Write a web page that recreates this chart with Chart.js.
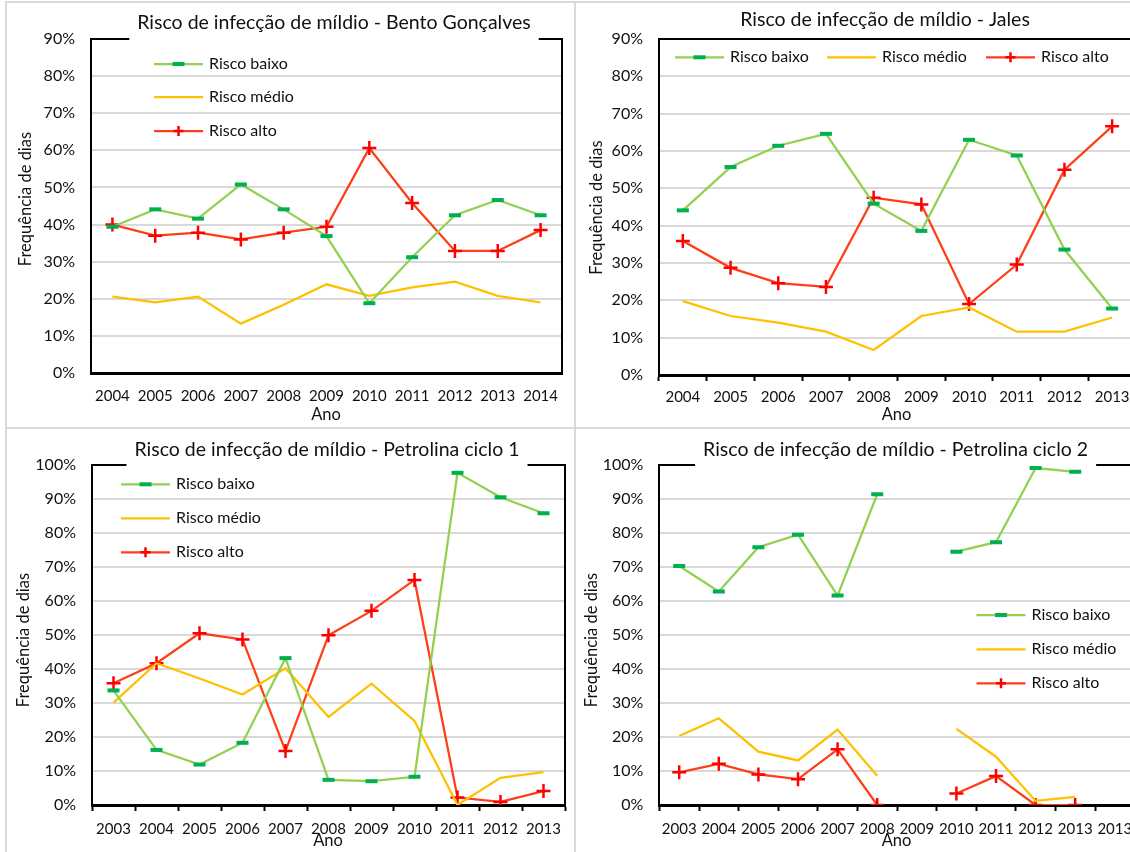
<!DOCTYPE html>
<html lang="pt">
<head>
<meta charset="utf-8">
<title>Risco de infecção de míldio</title>
<script src="https://cdn.jsdelivr.net/npm/chart.js@4.4.1/dist/chart.umd.min.js"></script>
<style>
  html, body { margin: 0; padding: 0; background: #fff; }
  #page { position: relative; width: 1130px; height: 852px; overflow: hidden; background: #fff; }
  #page canvas { position: absolute; }
  .rule { position: absolute; background: #d9d9d9; }
</style>
</head>
<body>
<div id="page">
  <canvas id="bento"  width="569" height="426" style="left:6px;top:2px"></canvas>
  <canvas id="jales"  width="575" height="426" style="left:575px;top:2px"></canvas>
  <canvas id="petro1" width="569" height="430" style="left:6px;top:428px"></canvas>
  <canvas id="petro2" width="575" height="430" style="left:575px;top:428px"></canvas>
  <div class="rule" style="left:5px;top:1px;width:2px;height:851px"></div>
  <div class="rule" style="left:574px;top:1px;width:2px;height:851px"></div>
  <div class="rule" style="left:5px;top:1px;width:1125px;height:2px"></div>
  <div class="rule" style="left:5px;top:427px;width:1125px;height:2px"></div>
</div>
<script>
// Anos (categorias)
const anosBento = ['2004', '2005', '2006', '2007', '2008', '2009', '2010', '2011', '2012', '2013', '2014'];
const anosJales = ['2004', '2005', '2006', '2007', '2008', '2009', '2010', '2011', '2012', '2013'];
const anosPetrolina1 = ['2003', '2004', '2005', '2006', '2007', '2008', '2009', '2010', '2011', '2012', '2013'];
const anosPetrolina2 = ['2003', '2004', '2005', '2006', '2007', '2008', '2009', '2010', '2011', '2012', '2013', '2013'];

// Frequência de dias (%) por nível de risco
const bentoBaixo = [39.4, 44.1, 41.6, 50.8, 44.1, 36.9, 18.8, 31.2, 42.5, 46.6, 42.5];
const bentoMedio = [20.6, 19.0, 20.6, 13.3, 18.4, 23.9, 20.8, 23.1, 24.6, 20.8, 19.0];
const bentoAlto  = [40.0, 37.0, 37.8, 36.0, 37.8, 39.4, 60.6, 45.8, 32.9, 32.9, 38.5];

const jalesBaixo = [44.1, 55.7, 61.4, 64.6, 45.9, 38.6, 63.0, 58.8, 33.6, 17.8];
const jalesMedio = [19.8, 15.8, 14.0, 11.6, 6.7, 15.8, 18.1, 11.6, 11.6, 15.4];
const jalesAlto  = [35.9, 28.7, 24.6, 23.6, 47.5, 45.7, 19.0, 29.6, 55.0, 66.6];

const petrolina1Baixo = [33.7, 16.2, 11.9, 18.3, 43.2, 7.4, 7.0, 8.3, 97.7, 90.5, 85.8];
const petrolina1Medio = [30.1, 41.7, 37.2, 32.5, 40.2, 25.9, 35.7, 24.7, 0.0, 8.0, 9.7];
const petrolina1Alto  = [35.8, 41.7, 50.5, 48.7, 15.9, 49.9, 57.1, 66.2, 2.2, 0.9, 4.1];

const petrolina2Baixo = [70.3, 62.8, 75.8, 79.5, 61.6, 91.4, null, 74.5, 77.3, 99.1, 98.0, null];
const petrolina2Medio = [20.3, 25.5, 15.7, 13.1, 22.2, 8.6, null, 22.4, 14.2, 1.2, 2.4, null];
const petrolina2Alto  = [9.6, 12.1, 9.0, 7.6, 16.4, 0.0, null, 3.4, 8.5, 0.0, 0.0, null];

const FONT = 'Lato, "Open Sans", sans-serif';
const TEXT = '#111111';
const VERDE = '#92D050', VERDE_MARCA = '#00B050';
const AMARELO = '#FFC000';
const VERMELHO = '#FF3D17', VERMELHO_MARCA = '#FF0000';

function seriesRisco(baixo, medio, alto) {
  return [
    { label: 'Risco baixo', data: baixo, borderColor: VERDE, backgroundColor: VERDE, borderWidth: 2.25,
      pointStyle: 'line', pointRadius: 6, pointBorderWidth: 4, pointBorderColor: VERDE_MARCA, pointBackgroundColor: VERDE_MARCA },
    { label: 'Risco médio', data: medio, borderColor: AMARELO, backgroundColor: AMARELO, borderWidth: 2.25,
      pointRadius: 0 },
    { label: 'Risco alto', data: alto, borderColor: VERMELHO, backgroundColor: VERMELHO, borderWidth: 2.25,
      pointStyle: 'cross', pointRadius: 7, pointBorderWidth: 2.5, pointBorderColor: VERMELHO_MARCA }
  ];
}

// Title (with its white box over the plot frame), axis titles, plot frame and legend
const painel = {
  id: 'painel',
  beforeDatasetsDraw(chart, args, o) {
    const ctx = chart.ctx, a = chart.chartArea;
    ctx.save();
    ctx.strokeStyle = '#000';
    ctx.lineWidth = 2;
    ctx.beginPath();
    ctx.moveTo(a.left, a.top);
    ctx.lineTo(a.right, a.top);
    ctx.lineTo(a.right, a.bottom);
    ctx.stroke();

    ctx.font = o.titleSize + 'px ' + FONT;
    const w = ctx.measureText(o.title).width;
    if (o.titleBox) {
      ctx.fillStyle = '#fff';
      ctx.fillRect(o.titleX - w / 2 - 8, 0, w + 16, a.top + 1.6);
    }
    ctx.fillStyle = TEXT;
    ctx.textAlign = 'center';
    ctx.textBaseline = 'middle';
    ctx.fillText(o.title, o.titleX, o.titleY);

    ctx.font = o.axisSize + 'px ' + FONT;
    ctx.fillText('Ano', o.xTitle[0], o.xTitle[1]);
    ctx.translate(o.yTitle[0], o.yTitle[1]);
    ctx.rotate(-Math.PI / 2);
    ctx.fillText('Frequência de dias', 0, 0);
    ctx.restore();
  },
  afterDraw(chart, args, o) {
    const ctx = chart.ctx;
    ctx.save();
    ctx.font = o.legendSize + 'px ' + FONT;
    ctx.textAlign = 'left';
    ctx.textBaseline = 'middle';
    chart.data.datasets.forEach((ds, i) => {
      const [x0, y] = o.legend[i];
      const x1 = x0 + 49;
      const cx = (x0 + x1) / 2;
      ctx.strokeStyle = ds.borderColor;
      ctx.lineWidth = ds.borderWidth;
      ctx.lineCap = 'butt';
      ctx.beginPath();
      ctx.moveTo(x0, y);
      ctx.lineTo(x1, y);
      ctx.stroke();
      if (ds.pointStyle === 'line') {
        ctx.fillStyle = ds.pointBorderColor;
        ctx.fillRect(cx - 6, y - 2, 12, 4);
      } else if (ds.pointStyle === 'cross') {
        ctx.strokeStyle = ds.pointBorderColor;
        ctx.lineWidth = 2.5;
        ctx.beginPath();
        ctx.moveTo(cx - 5, y); ctx.lineTo(cx + 5, y);
        ctx.moveTo(cx, y - 5); ctx.lineTo(cx, y + 5);
        ctx.stroke();
      }
      ctx.fillStyle = TEXT;
      ctx.fillText(ds.label, x1 + 6, y);
    });
    ctx.restore();
  }
};

function grafico(id, anos, datasets, cfg) {
  const canvas = document.getElementById(id);
  const W = canvas.width, H = canvas.height;
  const area = cfg.area; // [left, top, right, bottom]
  return new Chart(canvas, {
    type: 'line',
    data: { labels: anos, datasets: datasets },
    plugins: [painel],
    options: {
      responsive: false,
      animation: false,
      events: [],
      layout: { padding: { left: 0, top: area[1], right: W - area[2], bottom: 0 } },
      elements: { line: { tension: 0, spanGaps: false } },
      plugins: {
        legend: { display: false },
        title: { display: false },
        tooltip: { enabled: false },
        painel: cfg.painel
      },
      scales: {
        x: {
          type: 'category',
          offset: true,
          grid: { display: true, drawOnChartArea: false, drawTicks: cfg.marcas, tickLength: 6,
                  tickColor: '#000', tickWidth: 2, offset: true },
          border: { display: true, color: '#000', width: 3 },
          ticks: { autoSkip: false, maxRotation: 0, minRotation: 0, padding: cfg.xPad,
                   color: TEXT, font: { family: FONT, size: 15 } },
          afterFit: s => { s.height = H - area[3]; s.paddingLeft = 0; s.paddingRight = 0; }
        },
        y: {
          min: 0,
          max: cfg.yMax,
          ticks: { stepSize: 10, padding: 16, color: TEXT, font: { family: FONT, size: 16 },
                   callback: v => v + '%' },
          grid: { color: '#d9d9d9', lineWidth: 2, drawTicks: false },
          border: { display: true, color: '#000', width: 2 },
          afterFit: s => { s.width = area[0]; }
        }
      }
    }
  });
}

const TAM = { titleSize: 19.5, axisSize: 16.5, legendSize: 16 };

grafico('bento', anosBento, seriesRisco(bentoBaixo, bentoMedio, bentoAlto), {
  area: [85, 37, 556, 371], yMax: 90, marcas: false, xPad: 14,
  painel: Object.assign({ title: 'Risco de infecção de míldio - Bento Gonçalves', titleX: 328, titleY: 20.3, titleBox: true,
            yTitle: [19.2, 197], xTitle: [320, 413],
            legend: [[148, 62], [148, 95], [148, 129]] }, TAM)
});

grafico('jales', anosJales, seriesRisco(jalesBaixo, jalesMedio, jalesAlto), {
  area: [84, 37, 561, 373], yMax: 90, marcas: true, xPad: 7,
  painel: Object.assign({ title: 'Risco de infecção de míldio - Jales', titleX: 310, titleY: 18, titleBox: false,
            yTitle: [21.7, 205.5], xTitle: [321.5, 412.7],
            legend: [[100, 55.3], [252, 55.3], [411, 55.3]] }, TAM)
});

grafico('petro1', anosPetrolina1, seriesRisco(petrolina1Baixo, petrolina1Medio, petrolina1Alto), {
  area: [86, 37, 562, 377], yMax: 100, marcas: true, xPad: 9,
  painel: Object.assign({ title: 'Risco de infecção de míldio - Petrolina ciclo 1', titleX: 321, titleY: 22, titleBox: true,
            yTitle: [17.4, 212], xTitle: [322, 413],
            legend: [[115, 56.3], [115, 90.3], [115, 124.3]] }, TAM)
});

grafico('petro2', anosPetrolina2, seriesRisco(petrolina2Baixo, petrolina2Medio, petrolina2Alto), {
  area: [84.4, 37, 559.6, 377], yMax: 100, marcas: true, xPad: 9,
  painel: Object.assign({ title: 'Risco de infecção de míldio - Petrolina ciclo 2', titleX: 320.6, titleY: 22, titleBox: true,
            yTitle: [17, 212], xTitle: [321.5, 413],
            legend: [[401.5, 187], [401.5, 221.3], [401.5, 255.3]] }, TAM)
});
</script>
</body>
</html>
